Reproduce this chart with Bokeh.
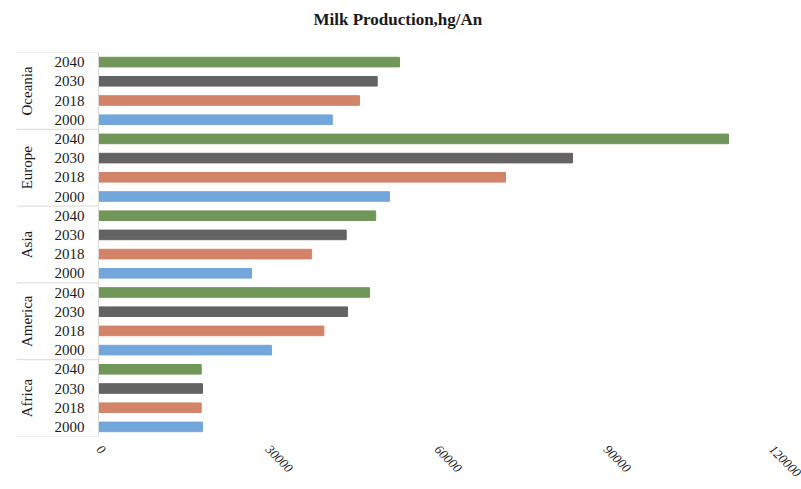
import math
from bokeh.plotting import figure
from bokeh.models import FactorRange, Range1d, ColumnDataSource, FixedTicker, NumeralTickFormatter, Span, Title
from bokeh.core.properties import value
from bokeh.embed import file_html
from bokeh.resources import INLINE

regions = ["Africa", "America", "Asia", "Europe", "Oceania"]
years = ["2000", "2018", "2030", "2040"]
values_2000 = [18460, 30710, 27160, 51660, 41510]
values_2018 = [18230, 40010, 37830, 72250, 46330]
values_2030 = [18460, 44200, 43970, 84150, 49470]
values_2040 = [18230, 48110, 49200, 111840, 53430]
x_ticks = [0, 30000, 60000, 90000, 120000]
title_text = "Milk Production,hg/An"

colors_by_year = {"2000": "#73A7DB", "2018": "#D38468", "2030": "#636363", "2040": "#709659"}
series = {"2000": values_2000, "2018": values_2018, "2030": values_2030, "2040": values_2040}

factors, vals, cols = [], [], []
for i, r in enumerate(regions):
    for y in years:
        factors.append((r, y))
        vals.append(series[y][i])
        cols.append(colors_by_year[y])

src = ColumnDataSource(dict(y=factors, v=vals, c=cols))

# label area to the left of the value axis (in value units)
label_area = 14557
p = figure(width=801, height=489, output_backend="svg", toolbar_location=None,
           y_range=FactorRange(*factors, range_padding=0, factor_padding=0, group_padding=0),
           x_range=Range1d(-label_area, 120000),
           min_border_left=16, min_border_right=27, min_border_top=52, min_border_bottom=53)

p.hbar(y="y", right="v", left=0, height=0.5, color="c", source=src)

# year labels
p.text(x=[-2485] * len(factors), y=factors, text=[f[1] for f in factors],
       text_align="right", text_baseline="middle",
       text_font=value("Liberation Serif"), text_font_size="15px", text_color="#1a1a1a")

# region labels (rotated)
p.text(x=[-12700] * len(regions), y=regions, text=regions, angle=math.pi / 2,
       text_align="center", text_baseline="middle",
       text_font=value("Liberation Serif"), text_font_size="15px", text_color="#1a1a1a")

# separators between groups
sep_y = [(r, "2000", -0.5) for r in regions] + [(regions[-1], "2040", 0.5)]
p.segment(x0=[-label_area] * len(sep_y), x1=[0] * len(sep_y), y0=sep_y, y1=sep_y,
          line_color="#d9d9d9", line_width=1)

p.add_layout(Span(location=0, dimension="height", line_color="#d9d9d9", line_width=1))

# spacer between the title and the plot frame
p.add_layout(Title(text=" ", text_font_size="1px", standoff=14), "above")

p.title.text = title_text
p.title.align = "left"
p.title.offset = 297
p.title.standoff = 14
p.title.text_font = "Liberation Serif"
p.title.text_font_size = "17px"
p.title.text_font_style = "bold"
p.title.text_color = "#1a1a1a"

p.xgrid.visible = False
p.ygrid.visible = False
p.outline_line_color = None
p.yaxis.visible = False

xa = p.xaxis[0]
xa.ticker = FixedTicker(ticks=x_ticks)
xa.formatter = NumeralTickFormatter(format="0")
xa.major_label_orientation = -math.pi / 4
xa.axis_line_color = None
xa.major_tick_line_color = None
xa.minor_tick_line_color = None
xa.major_label_text_font = "Liberation Serif"
xa.major_label_text_font_size = "13px"
xa.major_label_text_font_style = "italic"
xa.major_label_text_color = "#1a1a1a"

with open("out.html", "w") as f:
    f.write(file_html(p, INLINE))
